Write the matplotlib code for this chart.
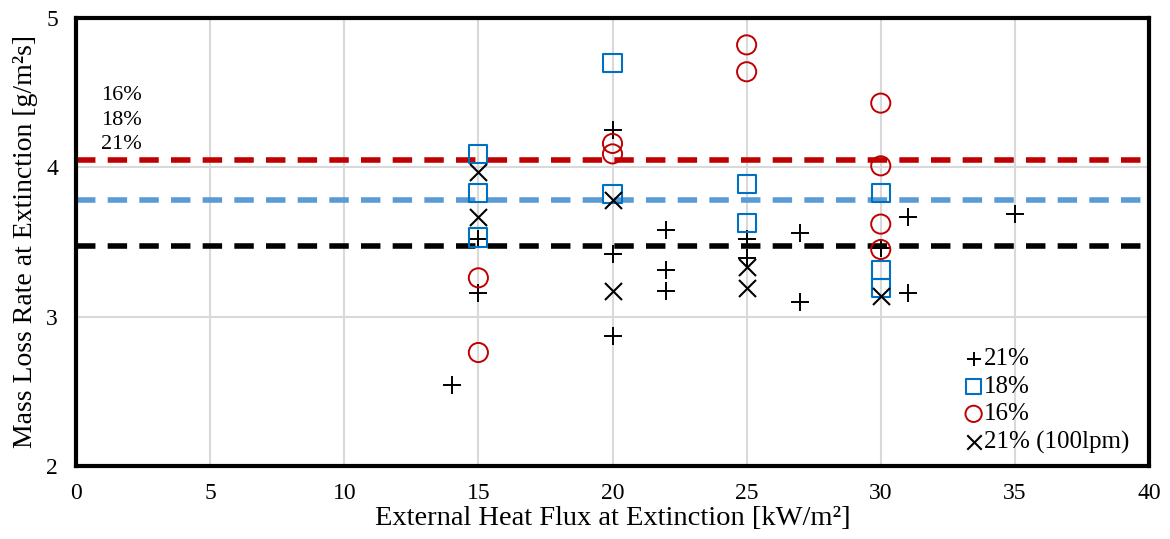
import matplotlib.pyplot as plt
import numpy as np

plt.rcParams['font.family'] = ['Liberation Serif', 'DejaVu Serif']

# 21% O2 (+)
x21 = [14, 15, 15, 20, 20, 20, 22, 22, 22, 25, 25, 27, 27, 30, 31, 31, 35]
y21 = [2.54, 3.16, 3.52, 4.25, 3.42, 2.87, 3.58, 3.31, 3.17, 3.52, 3.39, 3.56, 3.10, 3.46, 3.67, 3.16, 3.69]

# 18% O2 (squares)
x18 = [15, 15, 15, 20, 20, 25, 25, 30, 30, 30]
y18 = [4.09, 3.83, 3.53, 4.70, 3.82, 3.89, 3.63, 3.83, 3.31, 3.19]

# 16% O2 (circles)
x16 = [15, 15, 20, 20, 25, 25, 30, 30, 30, 30]
y16 = [3.26, 2.76, 4.16, 4.09, 4.82, 4.64, 4.43, 4.01, 3.62, 3.45]

# 21% O2, 100 lpm (x)
x21b = [15, 15, 20, 20, 25, 25, 30]
y21b = [3.97, 3.67, 3.78, 3.17, 3.33, 3.19, 3.14]

# mean lines
mean_labels = ['16%', '18%', '21%']
mean_values = [4.05, 3.78, 3.47]
mean_colors = ['#c00000', '#5b9bd5', 'black']

fig = plt.figure(figsize=(11.7, 5.39), dpi=100)
ax = fig.add_axes([76/1170, 1 - 466/539, (1149-76)/1170, (466-18)/539])

for val, col in zip(mean_values, mean_colors):
    ax.axhline(val, color=col, linestyle=(0, (3.5, 2.2)), linewidth=4, zorder=2)

ax.scatter(x21, y21, marker='+', s=150, color='black', linewidths=1.4, label='21%', zorder=3)
ax.scatter(x18, y18, marker='s', s=170, facecolors='none', edgecolors='#0070c0', linewidths=1.5, label='18%', zorder=3)
ax.scatter(x16, y16, marker='o', s=190, facecolors='none', edgecolors='#c00000', linewidths=1.4, label='16%', zorder=3)
ax.scatter(x21b, y21b, marker='x', s=150, color='black', linewidths=1.5, label='21% (100lpm)', zorder=3)

# labels for mean lines
for i, lab in enumerate(mean_labels):
    ax.text(0.95, 4.48 - i * 0.165, lab, fontsize=16, ha='left', va='center')

ax.set_xlim(0, 40)
ax.set_ylim(2, 5)
ax.set_xticks(np.arange(0, 41, 5))
ax.set_yticks([2, 3, 4, 5])
ax.grid(True, color='#d9d9d9', linewidth=1.5, zorder=0)
ax.set_axisbelow(True)
ax.tick_params(axis='x', length=0, labelsize=17, pad=12)
ax.tick_params(axis='y', length=0, labelsize=17, pad=13)
for sp in ax.spines.values():
    sp.set_linewidth(3)
    sp.set_color('black')

ax.set_xlabel('External Heat Flux at Extinction [kW/m\u00b2]', fontsize=20.5, labelpad=2)
ax.set_ylabel('Mass Loss Rate at Extinction [g/m\u00b2s]', fontsize=20, labelpad=6)

leg = ax.legend(loc='lower right', frameon=False, fontsize=18, handletextpad=-0.1,
                borderaxespad=0.1, labelspacing=0.2, handlelength=1.0,
                bbox_to_anchor=(0.993, 0.0), markerscale=0.85)

fig.savefig('out.png', dpi=100)
